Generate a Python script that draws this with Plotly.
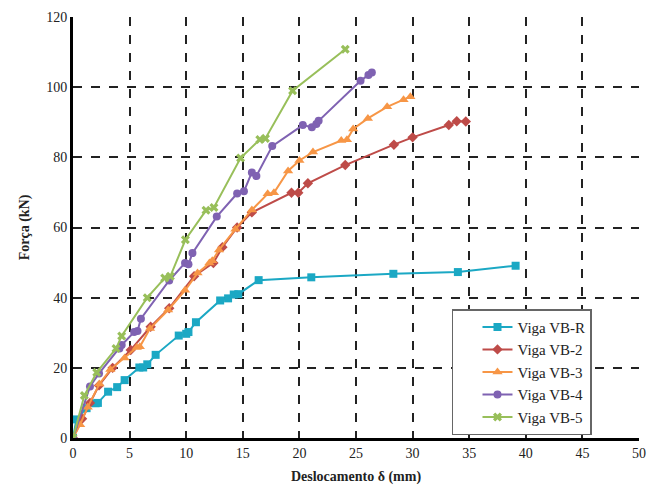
import plotly.graph_objects as go

names = ["Viga VB-R", "Viga VB-2", "Viga VB-3", "Viga VB-4", "Viga VB-5"]

vbr_x = [0, 0.3, 1.2, 2.0, 2.2, 3.1, 3.9, 4.56, 5.86, 6.2, 6.56, 7.3, 9.34, 10.0, 10.2, 10.86, 13.0, 13.7, 14.2, 14.6, 16.4, 21.05, 28.3, 34.0, 39.1]
vbr_y = [0, 5.3, 8.5, 9.9, 10.0, 13.2, 14.5, 16.5, 20.1, 20.1, 21.0, 23.7, 29.2, 29.7, 30.2, 33.0, 39.2, 39.8, 40.9, 41.0, 45.0, 45.8, 46.8, 47.3, 49.1]

vb2_x = [0, 0.8, 1.5, 2.3, 3.5, 5.1, 6.86, 8.5, 10.7, 12.4, 13.2, 14.5, 15.8, 19.3, 19.9, 20.75, 24.05, 28.35, 30.0, 33.2, 33.9, 34.7]
vb2_y = [0, 5.5, 10.0, 15.0, 20.0, 25.1, 31.7, 37.0, 46.1, 49.9, 54.4, 60.0, 64.3, 69.9, 69.9, 72.6, 77.8, 83.6, 85.7, 89.2, 90.3, 90.2]

vb3_x = [0, 0.63, 1.3, 2.33, 3.3, 4.56, 5.63, 5.9, 6.8, 8.4, 9.9, 11.0, 12.05, 12.3, 12.9, 14.35, 15.8, 17.2, 17.75, 19.0, 20.0, 21.2, 23.7, 24.2, 24.75, 26.05, 27.75, 29.2, 29.8]
vb3_y = [0, 3.8, 8.8, 15.4, 19.5, 22.8, 25.8, 26.0, 31.2, 36.5, 42.1, 47.0, 49.9, 50.5, 53.6, 59.5, 65.0, 69.6, 69.9, 76.1, 79.1, 81.5, 84.8, 85.0, 88.1, 91.1, 94.4, 96.4, 97.3]

vb4_x = [0, 1.5, 2.3, 4.1, 4.3, 5.4, 5.7, 6.0, 8.5, 9.9, 10.2, 10.55, 12.7, 14.5, 15.1, 15.8, 16.2, 17.6, 20.3, 21.1, 21.5, 21.7, 25.4, 26.1, 26.4]
vb4_y = [0, 14.7, 18.4, 25.5, 26.5, 30.2, 30.5, 34.0, 44.9, 49.9, 49.5, 52.7, 63.1, 69.7, 70.3, 75.7, 74.7, 83.2, 89.2, 88.6, 89.5, 90.4, 101.8, 103.5, 104.2]

vb5_x = [0, 1.0, 2.1, 3.8, 4.3, 6.56, 8.1, 8.6, 9.93, 11.75, 12.45, 14.8, 16.5, 17.0, 19.4, 24.05]
vb5_y = [0, 12.1, 18.7, 25.5, 29.1, 40.0, 45.6, 46.1, 56.5, 64.9, 65.7, 79.8, 85.1, 85.4, 99.0, 110.8]

x_ticks = [0, 5, 10, 15, 20, 25, 30, 35, 40, 45, 50]
y_ticks = [0, 20, 40, 60, 80, 100, 120]

series = [
    (names[0], vbr_x, vbr_y, "#1BA8C4", "square", 8),
    (names[1], vb2_x, vb2_y, "#BE4B48", "diamond", 8),
    (names[2], vb3_x, vb3_y, "#F79646", "triangle-up", 9),
    (names[3], vb4_x, vb4_y, "#7F62B2", "circle", 8),
    (names[4], vb5_x, vb5_y, "#98BF5A", "x", 8),
]

fig = go.Figure()
for name, xs, ys, color, sym, size in series:
    fig.add_trace(go.Scatter(
        x=xs, y=ys, name=name, mode="lines+markers",
        line=dict(color=color, width=2),
        marker=dict(color=color, symbol=sym, size=size),
    ))

serif_a = "Liberation Serif"
fig.update_layout(
    width=654, height=493,
    margin=dict(l=65, r=23, t=9, b=63),
    plot_bgcolor="white", paper_bgcolor="white",
    font=dict(family=serif_a, size=14, color="#222"),
    showlegend=True,
    legend=dict(
        x=0.6696, y=0.306, xanchor="left", yanchor="top",
        bordercolor="#666", borderwidth=1.5, bgcolor="white",
        font=dict(family=serif_a, size=15, color="#222"),
        tracegroupgap=0, itemwidth=30, indentation=24,
    ),
    xaxis=dict(
        range=[0, 50], tickvals=x_ticks, ticktext=[str(v) for v in x_ticks],
        showgrid=True, gridcolor="#222", gridwidth=1.5, griddash="dash",
        showline=True, linecolor="black", linewidth=3, zeroline=False,
        ticks="", tickfont=dict(family=serif_a, size=14), automargin=False,
        title=dict(text="<b>Deslocamento δ (mm)</b>", font=dict(family=serif_a, size=14), standoff=12),
    ),
    yaxis=dict(
        range=[0, 120], tickvals=y_ticks, ticktext=[str(v) for v in y_ticks],
        showgrid=True, gridcolor="#222", gridwidth=1.5, griddash="dash",
        showline=True, linecolor="black", linewidth=3, zeroline=False,
        ticks="", tickfont=dict(family=serif_a, size=14), automargin=False,
        title=dict(text="<b>Força (kN)</b>", font=dict(family=serif_a, size=14), standoff=14),
    ),
)
fig.add_shape(type="line", xref="paper", yref="paper",
              x0=-0.1184, x1=-0.1184, y0=-0.2, y1=1.1,
              line=dict(color="#333", width=1.5))
fig.write_html("out.html")
